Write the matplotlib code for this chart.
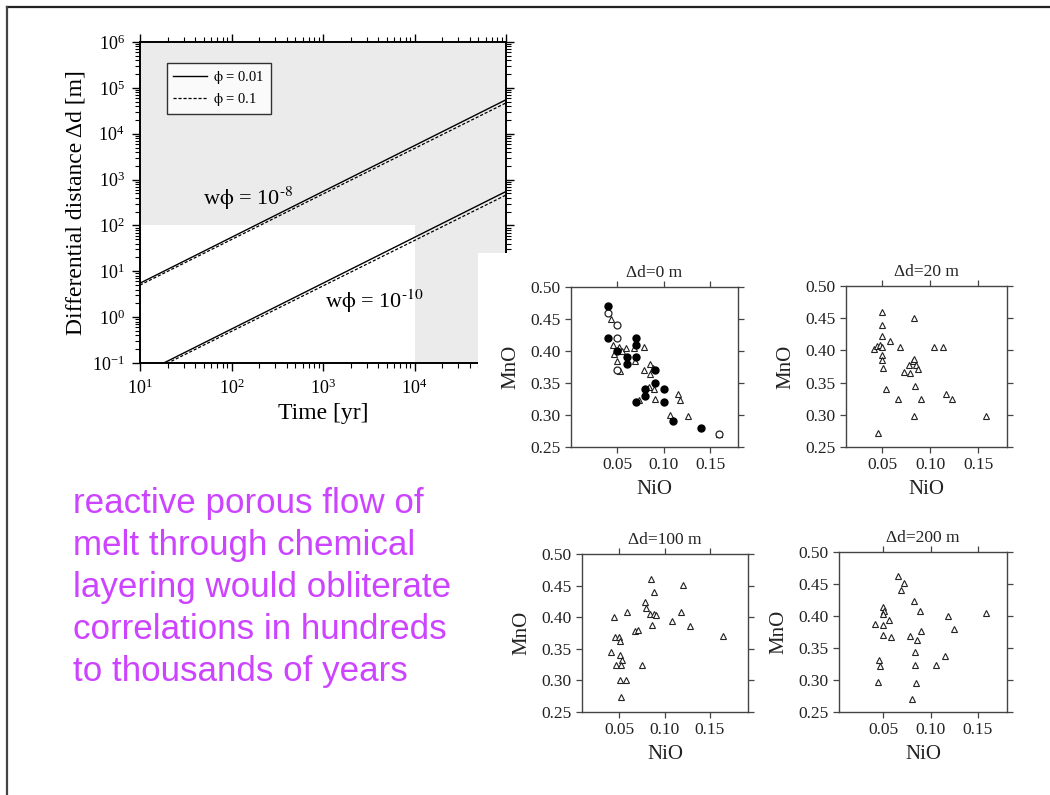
import matplotlib
matplotlib.use('Agg')
import matplotlib.pyplot as plt
from matplotlib.patches import Rectangle
from matplotlib.lines import Line2D
from matplotlib.ticker import LogLocator, LogFormatterMathtext, NullFormatter, FixedLocator

plt.rcParams['mathtext.fontset'] = 'stix'
SERIF = 'Liberation Serif'
SANS = 'Liberation Sans'

# ---------------- data: left log-log plot ----------------
time_yr = [10, 1e5]
dd_w8_phi001 = [5.5, 5.5e4]
dd_w8_phi01 = [5.0, 4.7e4]
dd_w10_phi001 = [0.055, 550]
dd_w10_phi01 = [0.050, 460]
legend_labels = [r'$\mathrm{\phi}$ = 0.01', r'$\mathrm{\phi}$ = 0.1']
curve_labels = [r'w$\mathrm{\phi}$ = 10$^{\text{-}8}$', r'w$\mathrm{\phi}$ = 10$^{\text{-}10}$']
dd_threshold = 100
t_threshold = 1e4

# ---------------- data: scatter panels ----------------
panel_titles = ['Δd=0 m', 'Δd=20 m', 'Δd=100 m', 'Δd=200 m']
nio_ticks = [0.05, 0.10, 0.15]
mno_ticks = [0.25, 0.30, 0.35, 0.40, 0.45, 0.50]

p1_tri_x = [0.043, 0.045, 0.046, 0.052, 0.055, 0.059, 0.050, 0.053, 0.068, 0.069, 0.079, 0.079,
            0.085, 0.088, 0.085, 0.084, 0.089, 0.090, 0.073, 0.107, 0.115, 0.118, 0.126, 0.160]
p1_tri_y = [0.450, 0.410, 0.396, 0.406, 0.400, 0.405, 0.385, 0.369, 0.405, 0.385, 0.406, 0.370,
            0.380, 0.374, 0.364, 0.344, 0.340, 0.325, 0.324, 0.300, 0.333, 0.324, 0.299, 0.270]
p1_dot_x = [0.040, 0.040, 0.070, 0.070, 0.050, 0.060, 0.060, 0.070, 0.090, 0.090, 0.080, 0.080,
            0.070, 0.100, 0.100, 0.110, 0.140]
p1_dot_y = [0.470, 0.420, 0.420, 0.410, 0.400, 0.390, 0.380, 0.390, 0.370, 0.350, 0.340, 0.330,
            0.320, 0.340, 0.320, 0.290, 0.280]
p1_ring_x = [0.040, 0.050, 0.050, 0.050, 0.160]
p1_ring_y = [0.460, 0.440, 0.420, 0.370, 0.270]

p2_x = [0.050, 0.050, 0.050, 0.058, 0.041, 0.044, 0.047, 0.050, 0.050, 0.050, 0.051, 0.054,
        0.068, 0.066, 0.083, 0.083, 0.072, 0.079, 0.078, 0.082, 0.083, 0.085, 0.087, 0.084,
        0.090, 0.104, 0.113, 0.116, 0.123, 0.158, 0.045]
p2_y = [0.460, 0.440, 0.423, 0.414, 0.402, 0.407, 0.408, 0.405, 0.393, 0.385, 0.372, 0.340,
        0.405, 0.324, 0.450, 0.298, 0.367, 0.365, 0.378, 0.383, 0.386, 0.378, 0.371, 0.345,
        0.324, 0.405, 0.405, 0.333, 0.324, 0.298, 0.272]

p3_x = [0.085, 0.088, 0.120, 0.079, 0.080, 0.084, 0.088, 0.091, 0.086, 0.108, 0.118, 0.128,
        0.164, 0.059, 0.044, 0.067, 0.071, 0.045, 0.050, 0.051, 0.041, 0.051, 0.053, 0.046,
        0.052, 0.075, 0.051, 0.057, 0.052]
p3_y = [0.461, 0.440, 0.451, 0.424, 0.414, 0.405, 0.405, 0.403, 0.387, 0.394, 0.408, 0.386,
        0.371, 0.408, 0.401, 0.378, 0.380, 0.368, 0.369, 0.362, 0.345, 0.340, 0.332, 0.324,
        0.324, 0.324, 0.300, 0.300, 0.273]

p4_x = [0.066, 0.072, 0.069, 0.082, 0.089, 0.050, 0.051, 0.050, 0.056, 0.041, 0.050, 0.050,
        0.058, 0.078, 0.086, 0.090, 0.118, 0.125, 0.159, 0.083, 0.115, 0.106, 0.083, 0.045,
        0.046, 0.044, 0.085, 0.080]
p4_y = [0.462, 0.451, 0.441, 0.424, 0.408, 0.414, 0.408, 0.403, 0.393, 0.387, 0.386, 0.370,
        0.367, 0.368, 0.362, 0.377, 0.400, 0.379, 0.404, 0.343, 0.338, 0.323, 0.323, 0.332,
        0.322, 0.297, 0.296, 0.271]

note_lines = ['reactive porous flow of', 'melt through chemical', 'layering would obliterate',
              'correlations in hundreds', 'to thousands of years']

# ---------------- figure ----------------
W, H = 1050, 795
fig = plt.figure(figsize=(W / 100, H / 100), dpi=100)
fig.patch.set_facecolor('white')


def fbox(x0, y0, x1, y1):
    return [x0 / W, 1 - y1 / H, (x1 - x0) / W, (y1 - y0) / H]


# slide frame (top and left)
fig.add_artist(Line2D([7 / W, 1], [1 - 7 / H, 1 - 7 / H], color='#222222', lw=1.6))
fig.add_artist(Line2D([7 / W, 7 / W], [0, 1 - 7 / H], color='#444444', lw=1.6))

# ---------------- main log-log plot ----------------
ax = fig.add_axes(fbox(140, 42, 506, 363))
ax.set_xscale('log')
ax.set_yscale('log')
ax.set_xlim(10, 1e5)
ax.set_ylim(0.1, 1e6)
gray = '#ebebeb'
ax.add_patch(Rectangle((10, dd_threshold), 1e5 - 10, 1e6 - dd_threshold, facecolor=gray,
                       edgecolor='none', zorder=0))
ax.add_patch(Rectangle((t_threshold, 0.1), 1e5 - t_threshold, dd_threshold - 0.1, facecolor=gray,
                       edgecolor='none', zorder=0))
l1, = ax.plot(time_yr, dd_w8_phi001, color='black', lw=1.0, zorder=3)
l2, = ax.plot(time_yr, dd_w8_phi01, color='black', lw=0.9, ls=(0, (2.5, 1.5)), zorder=3)
ax.plot(time_yr, dd_w10_phi001, color='black', lw=1.0, zorder=3)
ax.plot(time_yr, dd_w10_phi01, color='black', lw=0.9, ls=(0, (2.5, 1.5)), zorder=3)

ax.xaxis.set_major_locator(LogLocator(base=10, numticks=20))
ax.yaxis.set_major_locator(LogLocator(base=10, numticks=20))
ax.xaxis.set_minor_locator(LogLocator(base=10, subs=range(2, 10), numticks=20))
ax.yaxis.set_minor_locator(LogLocator(base=10, subs=range(2, 10), numticks=20))
ax.xaxis.set_major_formatter(LogFormatterMathtext())
ax.yaxis.set_major_formatter(LogFormatterMathtext())
ax.xaxis.set_minor_formatter(NullFormatter())
ax.yaxis.set_minor_formatter(NullFormatter())
ax.tick_params(axis='both', which='major', direction='out', length=6, width=1.0,
               top=True, right=True, labelsize=13, pad=5)
ax.tick_params(axis='both', which='minor', direction='out', length=3.5, width=0.8,
               top=True, right=True)
fig.canvas.draw()
for lab in ax.get_xticklabels() + ax.get_yticklabels():
    lab.set_fontfamily(SERIF)
# the 10^5 label lies under the pasted scatter figure
for tick in ax.xaxis.get_major_ticks():
    if tick.get_loc() > t_threshold * 2:
        tick.label1.set_visible(False)
for s in ax.spines.values():
    s.set_linewidth(1.4)
ax.set_xlabel('Time [yr]', fontfamily=SERIF, fontsize=17, labelpad=4)
ax.set_ylabel('Differential distance Δd [m]', fontfamily=SERIF, fontsize=17, labelpad=4)
ax.text(0.172, 0.492, curve_labels[0], transform=ax.transAxes, fontsize=16,
        fontfamily=SERIF, va='baseline', ha='left')
ax.text(0.505, 0.171, curve_labels[1], transform=ax.transAxes, fontsize=16,
        fontfamily=SERIF, va='baseline', ha='left')
leg = ax.legend([l1, l2], legend_labels, loc='upper left', bbox_to_anchor=(0.073, 0.935),
                fontsize=10.5, frameon=True, fancybox=False, handlelength=2.3,
                borderpad=0.45, labelspacing=0.3, handletextpad=0.4, borderaxespad=0)
leg.get_frame().set_edgecolor('black')
leg.get_frame().set_linewidth(1.0)
for t in leg.get_texts():
    t.set_fontfamily(SERIF)

# white cover of the pasted scatter figure
fig.add_artist(Rectangle((478 / W, 0), 1 - 478 / W, 1 - 253 / H, transform=fig.transFigure,
                         facecolor='white', edgecolor='none', zorder=5))

# ---------------- scatter panels ----------------
panel_boxes = [fbox(571, 287, 738, 447), fbox(846, 286, 1007, 447),
               fbox(582, 554, 748, 712), fbox(839, 552, 1007, 712)]
panel_xlims = [(0.0, 0.18), (0.012, 0.18), (0.009, 0.192), (0.003, 0.181)]
tri_sets = [(p1_tri_x, p1_tri_y), (p2_x, p2_y), (p3_x, p3_y), (p4_x, p4_y)]

for i, (box, xl, (tx, ty), title) in enumerate(zip(panel_boxes, panel_xlims, tri_sets, panel_titles)):
    pa = fig.add_axes(box, zorder=6)
    pa.set_facecolor('white')
    pa.set_xlim(*xl)
    pa.set_ylim(0.25, 0.50)
    pa.plot(tx, ty, linestyle='none', marker='^', markersize=4.5, markerfacecolor='white',
            markeredgecolor='#222222', markeredgewidth=0.8)
    if i == 0:
        pa.plot(p1_ring_x, p1_ring_y, linestyle='none', marker='o', markersize=5,
                markerfacecolor='white', markeredgecolor='#222222', markeredgewidth=0.9)
        pa.plot(p1_dot_x, p1_dot_y, linestyle='none', marker='o', markersize=5.0,
                markerfacecolor='black', markeredgecolor='black')
    pa.xaxis.set_major_locator(FixedLocator(nio_ticks))
    pa.yaxis.set_major_locator(FixedLocator(mno_ticks))
    pa.set_xticklabels(['%.2f' % v for v in nio_ticks])
    pa.set_yticklabels(['%.2f' % v for v in mno_ticks])
    pa.tick_params(direction='out', length=4.5, width=0.9, top=True, right=True,
                   labelsize=12.5, pad=3, color='#444444', labelcolor='#222222')
    for lab in pa.get_xticklabels() + pa.get_yticklabels():
        lab.set_fontfamily(SERIF)
    for s in pa.spines.values():
        s.set_color('#444444')
        s.set_linewidth(1.0)
    pa.set_title(title, fontfamily=SERIF, fontsize=12.5, pad=7, color='#222222')
    pa.set_xlabel('NiO', fontfamily=SERIF, fontsize=15, labelpad=5, color='#222222')
    pa.set_ylabel('MnO', fontfamily=SERIF, fontsize=15, labelpad=7, color='#222222')

# ---------------- note text ----------------
for k, line in enumerate(note_lines):
    fig.text(73 / W, 1 - (513 + 42 * k) / H, line, fontfamily=SANS, fontsize=25.2,
             color='#cc44ff', va='baseline', ha='left')

fig.savefig('out.png', dpi=100, facecolor='white')
